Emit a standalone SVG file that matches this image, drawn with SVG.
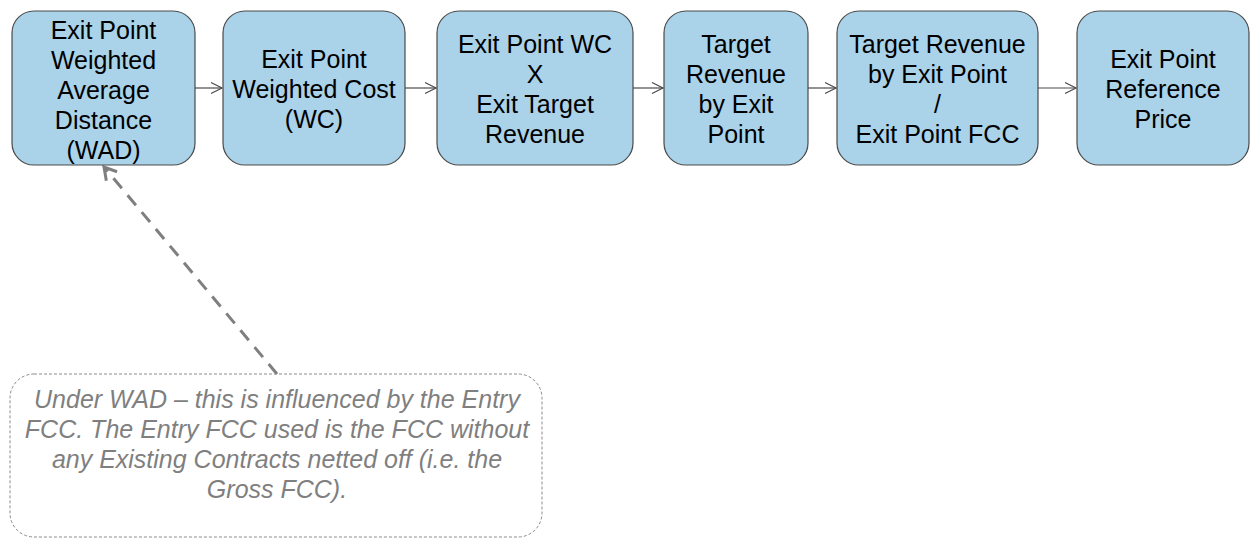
<svg xmlns="http://www.w3.org/2000/svg" width="1254" height="540" viewBox="0 0 1254 540">
<style>
.box{fill:#aad2e9;stroke:#4a4a4a;stroke-width:1.2}
.t{font-family:"Liberation Sans",Arial,sans-serif;font-size:25px;fill:#000;text-anchor:middle}
.n{font-family:"Liberation Sans",Arial,sans-serif;font-size:25px;font-style:italic;fill:#7f7f7f;text-anchor:middle}
.c{stroke:#4a4a4a;stroke-width:1.2;fill:none}
</style>
<defs>
<marker id="ah" markerWidth="14" markerHeight="14" refX="12" refY="7" orient="auto" markerUnits="userSpaceOnUse">
<path d="M1,1.5 L12,7 L1,12.5" fill="none" stroke="#4a4a4a" stroke-width="1.2"/>
</marker>
<marker id="ahd" markerWidth="20" markerHeight="20" refX="16" refY="10" orient="auto" markerUnits="userSpaceOnUse">
<path d="M4,3 L16,10 L4,17" fill="none" stroke="#7f7f7f" stroke-width="3"/>
</marker>
</defs>
<rect width="1254" height="540" fill="#fff"/>
<g id="connectors">
<line class="c" x1="195" y1="88" x2="222" y2="88" marker-end="url(#ah)"/>
<line class="c" x1="405" y1="88" x2="436" y2="88" marker-end="url(#ah)"/>
<line class="c" x1="633" y1="88" x2="663" y2="88" marker-end="url(#ah)"/>
<line class="c" x1="808" y1="88" x2="836" y2="88" marker-end="url(#ah)"/>
<line class="c" x1="1038" y1="88" x2="1076" y2="88" marker-end="url(#ah)"/>
<line x1="277" y1="374" x2="104" y2="167" stroke="#7f7f7f" stroke-width="3" stroke-dasharray="13,9" marker-end="url(#ahd)"/>
</g>
<g id="n1">
<rect class="box" x="12" y="11" width="183" height="154" rx="22"/>
<text class="t" x="103.5" y="38.5">Exit Point</text>
<text class="t" x="103.5" y="68.5">Weighted</text>
<text class="t" x="103.5" y="98.5">Average</text>
<text class="t" x="103.5" y="128.5">Distance</text>
<text class="t" x="103.5" y="158.5">(WAD)</text>
</g>
<g id="n2">
<rect class="box" x="223" y="11" width="182" height="154" rx="22"/>
<text class="t" x="314" y="67.5">Exit Point</text>
<text class="t" x="314" y="97.5">Weighted Cost</text>
<text class="t" x="314" y="127.5">(WC)</text>
</g>
<g id="n3">
<rect class="box" x="437" y="11" width="196" height="154" rx="22"/>
<text class="t" x="535" y="53">Exit Point WC</text>
<text class="t" x="535" y="83">X</text>
<text class="t" x="535" y="113">Exit Target</text>
<text class="t" x="535" y="143">Revenue</text>
</g>
<g id="n4">
<rect class="box" x="664" y="11" width="144" height="154" rx="22"/>
<text class="t" x="736" y="53">Target</text>
<text class="t" x="736" y="83">Revenue</text>
<text class="t" x="736" y="113">by Exit</text>
<text class="t" x="736" y="143">Point</text>
</g>
<g id="n5">
<rect class="box" x="837" y="11" width="201" height="154" rx="22"/>
<text class="t" x="937.5" y="53">Target Revenue</text>
<text class="t" x="937.5" y="83">by Exit Point</text>
<text class="t" x="937.5" y="113">/</text>
<text class="t" x="937.5" y="143">Exit Point FCC</text>
</g>
<g id="n6">
<rect class="box" x="1077" y="11" width="172" height="154" rx="22"/>
<text class="t" x="1163" y="67.5">Exit Point</text>
<text class="t" x="1163" y="97.5">Reference</text>
<text class="t" x="1163" y="127.5">Price</text>
</g>
<g id="note">
<rect x="10" y="374" width="532" height="163" rx="24" fill="none" stroke="#8c8c8c" stroke-width="1" stroke-dasharray="3,2"/>
<text class="n" x="277" y="408">Under WAD – this is influenced by the Entry</text>
<text class="n" x="277" y="438">FCC. The Entry FCC used is the FCC without</text>
<text class="n" x="277" y="468">any Existing Contracts netted off (i.e. the</text>
<text class="n" x="277" y="498">Gross FCC).</text>
</g>
</svg>
